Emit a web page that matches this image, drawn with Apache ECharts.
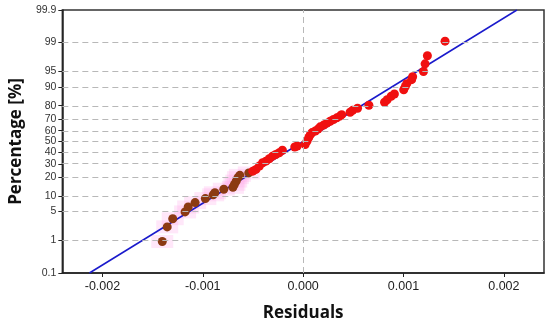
<!DOCTYPE html>
<html>
<head>
<meta charset="utf-8">
<script src="https://cdn.jsdelivr.net/npm/echarts@6/dist/echarts.min.js"></script>
<style>html,body{margin:0;padding:0;background:#fff}#c{width:550px;height:327px}</style>
</head>
<body>
<div id="c"></div>
<script>
// Residuals (x) and cumulative percentages (y)
const brownResiduals = [-0.001404,-0.001355,-0.001300,-0.001177,-0.001146,-0.001077,-0.000975,-0.000897,-0.000880,-0.000791,-0.000700,-0.000685,-0.000667,-0.000650,-0.000631,-0.000542];
const brownPercent   = [0.94,2.24,3.48,4.90,6.20,7.56,8.99,10.5,11.4,13.1,14.1,15.7,17.6,19.8,21.3,23.0];
const redResiduals = [-0.000502,-0.000470,-0.000436,-0.000404,-0.000371,-0.000338,-0.000305,-0.000273,-0.000239,-0.000207,-0.000084,-0.000059,0.000020,0.000039,0.000056,0.000072,0.000089,0.000121,0.000148,0.000170,0.000204,0.000236,0.000269,0.000302,0.000335,0.000367,0.000384,0.000468,0.000493,0.000542,0.000655,0.000811,0.000837,0.000877,0.000909,0.001002,0.001018,0.001032,0.001081,0.001091,0.001199,0.001215,0.001238,0.001414];
const redPercent   = [24.3,25.6,28.2,30.9,32.2,34.3,36.5,38.0,39.6,41.9,44.9,45.8,47.2,50.5,53.7,56.5,58.3,59.7,61.5,63.5,65.0,66.7,68.3,69.7,71.1,72.5,73.6,75.4,76.8,78.3,80.3,82.2,83.7,85.6,86.8,88.8,90.2,91.3,92.7,93.6,95.0,96.6,97.8,99.08];
const fitResiduals = [-0.00213, 0.00213];
const fitPercent   = [0.1, 99.9];
const yTicks = [0.1,1,5,10,20,30,40,50,60,70,80,90,95,99,99.9];
const xTicks = [-0.002,-0.001,0,0.001,0.002];
const xGrid  = [-0.002,-0.0015,-0.001,-0.0005,0,0.0005,0.001,0.0015,0.002];

// normal probability scale transform
function invNorm(p){
  const a=[-3.969683028665376e+01,2.209460984245205e+02,-2.759285104469687e+02,1.383577518672690e+02,-3.066479806614716e+01,2.506628277459239e+00];
  const b=[-5.447609879822406e+01,1.615858368580409e+02,-1.556989798598866e+02,6.680131188771972e+01,-1.328068155288572e+01];
  const c=[-7.784894002430293e-03,-3.223964580411365e-01,-2.400758277161838e+00,-2.549732539343734e+00,4.374664141464968e+00,2.938163982698783e+00];
  const d=[7.784695709041462e-03,3.224671290700398e-01,2.445134137142996e+00,3.754408661907416e+00];
  const pl=0.02425;let q,r;
  if(p<pl){q=Math.sqrt(-2*Math.log(p));return (((((c[0]*q+c[1])*q+c[2])*q+c[3])*q+c[4])*q+c[5])/((((d[0]*q+d[1])*q+d[2])*q+d[3])*q+1);}
  if(p>1-pl){q=Math.sqrt(-2*Math.log(1-p));return -(((((c[0]*q+c[1])*q+c[2])*q+c[3])*q+c[4])*q+c[5])/((((d[0]*q+d[1])*q+d[2])*q+d[3])*q+1);}
  q=p-0.5;r=q*q;return (((((a[0]*r+a[1])*r+a[2])*r+a[3])*r+a[4])*r+a[5])*q/(((((b[0]*r+b[1])*r+b[2])*r+b[3])*r+b[4])*r+1);
}
const Z = pc => invNorm(pc/100);
const zMin = Z(0.1), zMax = Z(99.9);
const yTickZ = yTicks.map(Z);
function labelFor(v){
  let best=0;for(let i=0;i<yTickZ.length;i++){if(Math.abs(yTickZ[i]-v)<Math.abs(yTickZ[best]-v))best=i;}
  return String(yTicks[best]);
}
const pair = (xs, ps) => xs.map((x,i)=>[x, Z(ps[i])]);
const dash = {color:'#b8b8b8', type:[6,4], width:1};

const chart = echarts.init(document.getElementById('c'), null, {renderer:'canvas'});
chart.setOption({
  animation:false,
  grid:{left:57, right:6, top:10, bottom:53, show:true, borderColor:'#333', borderWidth:1.5},
  xAxis:{
    type:'value', min:-0.0024, max:0.0024,
    name:'Residuals', nameLocation:'middle', nameGap:32,
    nameTextStyle:{fontFamily:'Open Sans', fontWeight:'bold', fontSize:17, color:'#111'},
    axisLine:{onZero:false, lineStyle:{color:'#222', width:1.5}},
    axisTick:{show:true, length:4, customValues:xTicks, lineStyle:{color:'#222'}},
    axisLabel:{customValues:xTicks, margin:7, fontFamily:'Liberation Sans', fontSize:12.5, color:'#222', formatter:v=>v.toFixed(3)},
    splitLine:{show:false}
  },
  yAxis:{
    type:'value', min:zMin, max:zMax,
    name:'Percentage [%]', nameLocation:'middle', nameGap:35,
    nameTextStyle:{fontFamily:'Open Sans', fontWeight:'bold', fontSize:17, color:'#111'},
    axisLine:{onZero:false, lineStyle:{color:'#222', width:1.5}},
    axisTick:{show:true, length:4, customValues:yTickZ, lineStyle:{color:'#222'}},
    axisLabel:{customValues:yTickZ, margin:6, fontFamily:'Liberation Sans', fontSize:10.5, color:'#333', formatter:labelFor},
    splitLine:{show:false}
  },
  series:[
    {type:'line', data:[], silent:true, markLine:{silent:true, symbol:'none', label:{show:false}, lineStyle:dash, animation:false,
      data: xGrid.map(v=>({xAxis:v})).concat(yTickZ.slice(1,-1).map(v=>({yAxis:v})))}},
    {type:'scatter', data:pair(brownResiduals, brownPercent), symbol:'rect', symbolSize:[22,13], z:1, silent:true,
      itemStyle:{color:'rgba(255,170,235,0.28)', opacity:1}},
    {type:'line', data:pair(fitResiduals, fitPercent), symbol:'none', z:2, lineStyle:{color:'#1a1acc', width:1.5}},
    {type:'scatter', data:pair(brownResiduals, brownPercent), symbolSize:9, z:3, itemStyle:{color:'#8b3a12', opacity:1}},
    {type:'scatter', data:pair(redResiduals, redPercent), symbolSize:9, z:4, itemStyle:{color:'#f01010', opacity:1}}
  ]
});
</script>
</body>
</html>
